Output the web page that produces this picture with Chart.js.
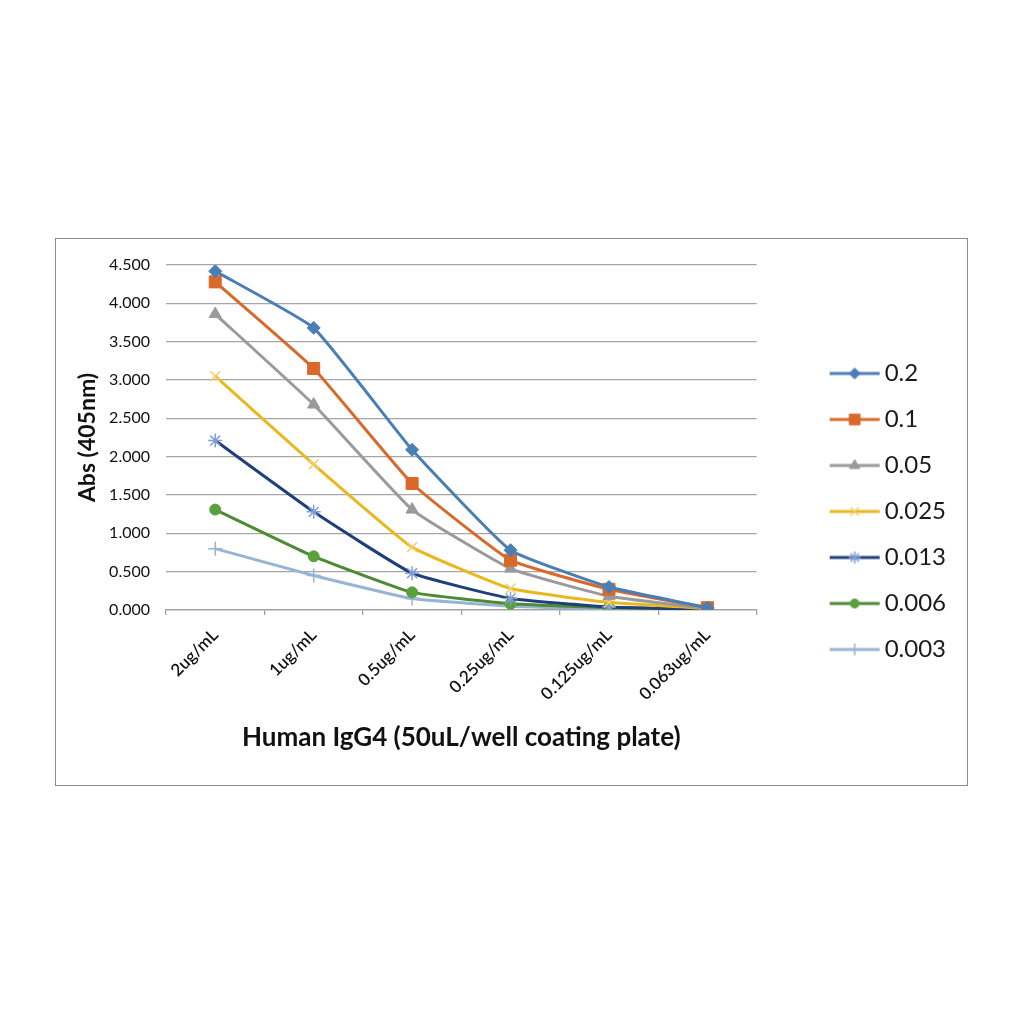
<!DOCTYPE html>
<html>
<head>
<meta charset="utf-8">
<script src="https://cdn.jsdelivr.net/npm/chart.js@4.4.1/dist/chart.umd.min.js"></script>
<style>
html,body{margin:0;padding:0;background:#fff;}
#frame{position:absolute;left:55px;top:238px;width:913px;height:548px;border:1px solid #8c8c8c;box-sizing:border-box;background:#fff;}
#wrap{position:absolute;left:0;top:0;width:911px;height:546px;}
</style>
</head>
<body>
<div id="frame"><div id="wrap"><canvas id="c"></canvas></div></div>
<script>
const categories = ['2ug/mL','1ug/mL','0.5ug/mL','0.25ug/mL','0.125ug/mL','0.063ug/mL'];
const seriesNames = ['0.2','0.1','0.05','0.025','0.013','0.006','0.003'];
const s02    = [4.42, 3.68, 2.09, 0.78, 0.30, 0.03];
const s01    = [4.28, 3.15, 1.65, 0.65, 0.27, 0.03];
const s005   = [3.86, 2.68, 1.31, 0.54, 0.18, 0.02];
const s0025  = [3.05, 1.90, 0.82, 0.28, 0.10, 0.02];
const s0013  = [2.21, 1.28, 0.48, 0.15, 0.04, 0.01];
const s0006  = [1.31, 0.70, 0.23, 0.08, 0.03, 0.01];
const s0003  = [0.80, 0.45, 0.15, 0.05, 0.02, 0.01];
const yTicks = [0, 0.5, 1, 1.5, 2, 2.5, 3, 3.5, 4, 4.5];

const seriesValues = [s02, s01, s005, s0025, s0013, s0006, s0003];
const lineColors  = ['#4a7fb5','#d9692a','#9a9a9a','#e8b81e','#1f3f7a','#4e8a32','#98b4d4'];
const markColors  = ['#4a7fb5','#d9692a','#9a9a9a','#f0d070','#7f9fd6','#5aa03c','#98b4d4'];
const markStyles  = ['rectRot','rect','triangle','crossRot','star','circle','cross'];
const markRadius  = [6.5,8.5,7,7,7,5.5,7];

const datasets = seriesNames.map((n,i)=>({
  label: n,
  data: seriesValues[i],
  borderColor: lineColors[i],
  backgroundColor: markColors[i],
  pointBorderColor: markColors[i],
  pointBackgroundColor: markColors[i],
  pointStyle: markStyles[i],
  pointRadius: markRadius[i],
  pointBorderWidth: (markStyles[i]==='crossRot'||markStyles[i]==='star'||markStyles[i]==='cross')?1.5:1,
  borderWidth: 3,
  tension: 0.12,
  fill: false
}));

function legendImage(i){
  const cv = document.createElement('canvas');
  cv.width = 110; cv.height = 20;
  const ctx = cv.getContext('2d');
  ctx.strokeStyle = lineColors[i];
  ctx.lineWidth = 3;
  ctx.beginPath(); ctx.moveTo(59,10); ctx.lineTo(109,10); ctx.stroke();
  ctx.fillStyle = markColors[i];
  ctx.strokeStyle = markColors[i];
  ctx.lineWidth = datasets[i].pointBorderWidth;
  Chart.helpers.drawPoint(ctx, {pointStyle: markStyles[i], radius: markRadius[i]-1, borderWidth: datasets[i].pointBorderWidth, rotation: 0}, 84, 10);
  return cv;
}

const fontFam = 'Lato, "Open Sans", sans-serif';

new Chart(document.getElementById('c'), {
  type: 'line',
  data: { labels: categories, datasets },
  options: {
    responsive: true,
    maintainAspectRatio: false,
    animation: false,
    layout: { padding: { top: 26, right: 11, bottom: 27, left: 0 } },
    plugins: {
      tooltip: { enabled: false },
      legend: {
        display: true,
        position: 'right',
        align: 'center',
        labels: {
          font: { family: fontFam, size: 24 },
          color: '#1a1a1a',
          padding: 22,
          usePointStyle: true,
          pointStyleWidth: 94,
          generateLabels: (chart) => chart.data.datasets.map((d,i)=>({
            text: d.label,
            pointStyle: legendImage(i),
            fillStyle: d.backgroundColor,
            strokeStyle: d.borderColor,
            lineWidth: 0,
            hidden: false,
            datasetIndex: i,
            fontColor: '#1a1a1a'
          }))
        }
      }
    },
    scales: {
      x: {
        offset: true,
        afterFit: (s) => { s.height = 148; },
        grid: { offset: true, drawOnChartArea: false, drawTicks: true, tickLength: 5, color: '#a0a0a0', lineWidth: 1.3 },
        border: { display: true, color: '#a0a0a0', width: 1.3 },
        ticks: { minRotation: 45, maxRotation: 45, padding: 10, color: '#111', font: { family: fontFam, size: 17, weight: '600' } },
        title: { display: true, text: 'Human IgG4 (50uL/well coating plate)', color: '#111', font: { family: fontFam, size: 26, weight: 'bold' }, padding: { top: 0, bottom: 5 } }
      },
      y: {
        min: 0, max: 4.5,
        afterFit: (s) => { s.width = 110; },
        afterBuildTicks: (s) => { s.ticks = yTicks.map(v=>({value:v})); },
        grid: { drawTicks: false, color: '#a6a6a6', lineWidth: 1.3 },
        border: { display: false },
        ticks: { padding: 16, color: '#111', font: { family: fontFam, size: 16 }, callback: (v) => Number(v).toFixed(3) },
        title: { display: true, text: 'Abs (405nm)', color: '#111', font: { family: fontFam, size: 23, weight: 'bold' }, padding: { top: 18, bottom: 0 } }
      }
    }
  }
});
</script>
</body>
</html>
